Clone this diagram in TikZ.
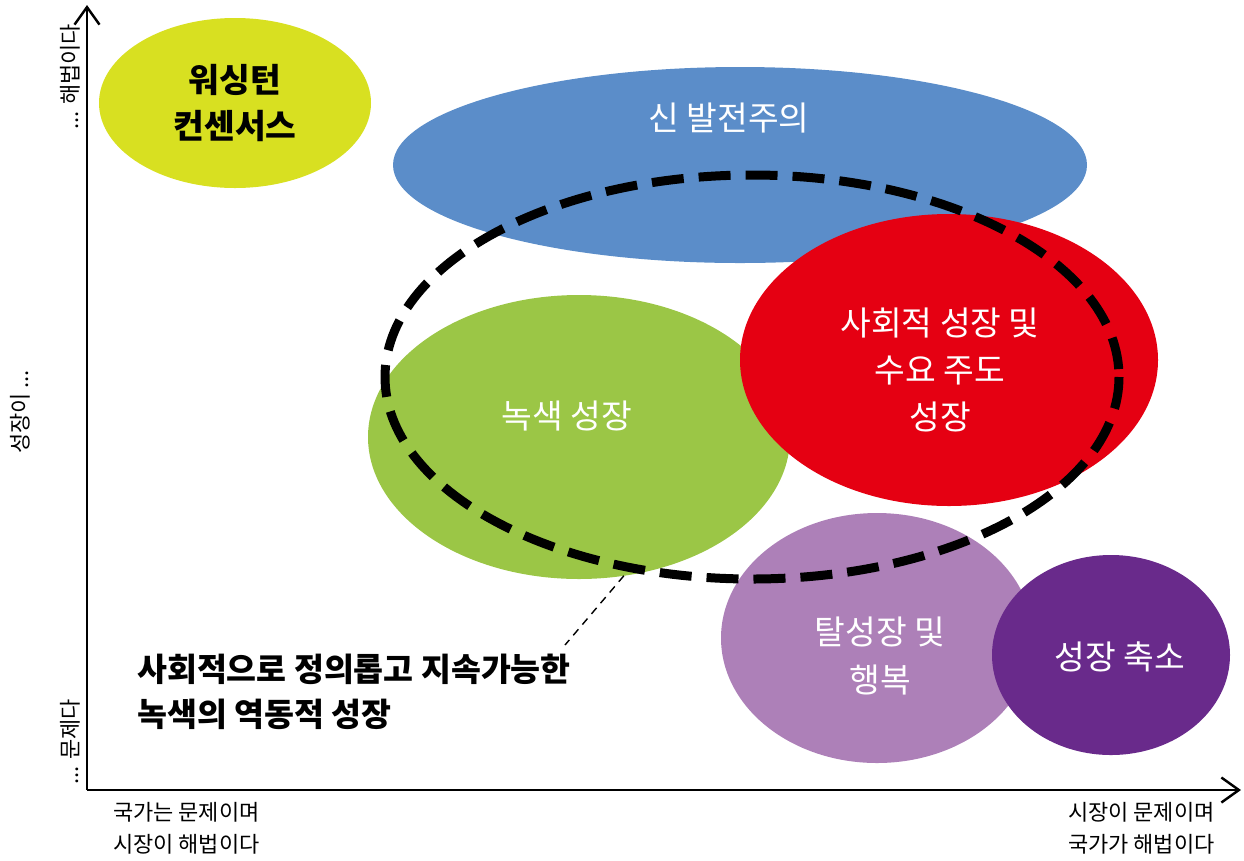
\documentclass[tikz,border=0pt]{standalone}
\usepackage{fontspec}
\setmainfont{Noto Sans CJK KR}
\usetikzlibrary{arrows.meta}
\definecolor{cyellow}{HTML}{D8E021}
\definecolor{cblue}{HTML}{5B8DC9}
\definecolor{cgreen}{HTML}{9BC646}
\definecolor{cred}{HTML}{E50012}
\definecolor{clpurple}{HTML}{AD80B8}
\definecolor{cdpurple}{HTML}{692A8B}
\tikzset{
  blob/.style={draw=none},
  intext/.style={text=white, font=\fontsize{19}{25}\selectfont, align=center},
  axislabel/.style={font=\fontsize{12.5}{18.5}\selectfont, align=left},
  axisline/.style={line width=1.6pt, -{Straight Barb[length=3.5mm,width=5mm,line width=1.4pt]}},
}
\begin{document}
\begin{tikzpicture}[x=0.02cm,y=-0.02cm]
\useasboundingbox (0,0) rectangle (1244,860);
% ellipses
\fill[cyellow] (235,103) ellipse [x radius=136, y radius=85];
\fill[cblue] (740,165) ellipse [x radius=347, y radius=98];
\fill[cgreen] (579,437) ellipse [x radius=211, y radius=142];
\fill[cred] (949,360) ellipse [x radius=209, y radius=146];
\fill[clpurple] (877,638) ellipse [x radius=156, y radius=125];
\fill[cdpurple] (1111,655) ellipse [x radius=119, y radius=100];
% labels in ellipses
\node[font=\fontsize{19}{25}\selectfont\bfseries, align=center] (ws) at (235,103) {워싱턴\\[1pt]컨센서스};
\node[intext] (sb) at (729,118) {신 발전주의};
\node[intext] (gg) at (567,416) {녹색 성장};
\node[intext] (sd) at (940,370) {사회적 성장 및\\[2pt]수요 주도\\[2pt]성장};
\node[intext] (dg) at (880,656) {탈성장 및\\[2pt]행복};
\node[intext] (dc) at (1120,657) {성장 축소};
% dashed ellipse
\draw[line width=0.18cm, dash pattern=on 0.64cm off 0.30cm] (752,377) ellipse [x radius=367, y radius=202];
\coordinate (dashpt) at (633,565);
\coordinate (lblpt) at (565,645);
\draw[line width=0.8pt, dash pattern=on 4.5pt off 3.5pt] (dashpt) -- (lblpt);
\node[anchor=west, align=left, font=\fontsize{18.5}{25.5}\selectfont\bfseries] (sj) at (131,692) {사회적으로 정의롭고 지속가능한\\녹색의 역동적 성장};
% axes
\coordinate (org) at (87,790);
\coordinate (ytop) at (87,5);
\coordinate (xend) at (1241,790);
\draw[axisline] (org) -- (ytop);
\draw[axisline] (org) -- (xend);
\node[axislabel, rotate=90] (yt) at (70,77) {... 해법이다};
\node[axislabel, rotate=90] (ym) at (20,412) {성장이 ...};
\node[axislabel, rotate=90] (yb) at (70,742) {... 문제다};
\node[axislabel, anchor=north west] (xl) at (107,796) {국가는 문제이며\\시장이 해법이다};
\node[axislabel, anchor=north west] (xr) at (1062,796) {시장이 문제이며\\국가가 해법이다};
\end{tikzpicture}
\end{document}
